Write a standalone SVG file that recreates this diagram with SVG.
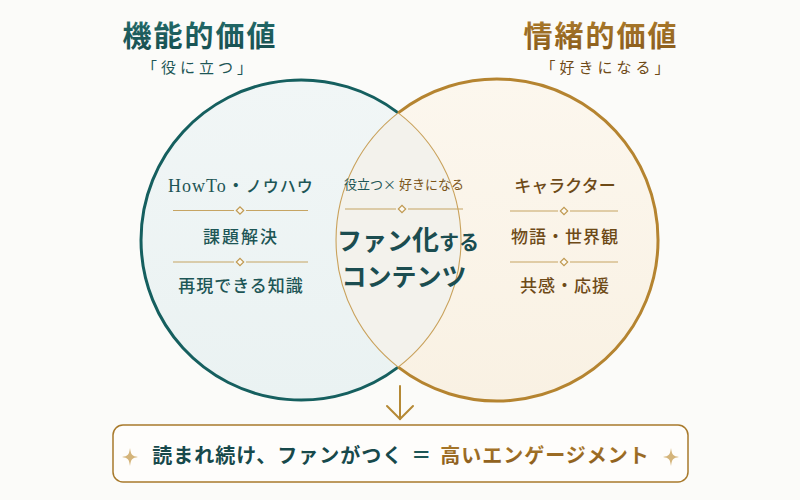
<svg xmlns="http://www.w3.org/2000/svg" width="800" height="500" viewBox="0 0 800 500">
  <defs>
    <linearGradient id="goldTxt" x1="0" y1="0" x2="0" y2="1">
      <stop offset="0" stop-color="#b07f2e"/>
      <stop offset="1" stop-color="#86581a"/>
    </linearGradient>
    <linearGradient id="tealTxt" x1="0" y1="0" x2="0" y2="1">
      <stop offset="0" stop-color="#24706e"/>
      <stop offset="1" stop-color="#164b4d"/>
    </linearGradient>
    <linearGradient id="leftFill" x1="0" y1="0" x2="0" y2="1">
      <stop offset="0" stop-color="#f1f6f6"/>
      <stop offset="1" stop-color="#eaf2f2"/>
    </linearGradient>
    <linearGradient id="rightFill" x1="0" y1="0" x2="0" y2="1">
      <stop offset="0" stop-color="#fcf7ee"/>
      <stop offset="1" stop-color="#f9f1e3"/>
    </linearGradient>
    <path id="sparkle" d="M0,-9 C1,-2 2,-1 8,0 C2,1 1,2 0,9 C-1,2 -2,1 -8,0 C-2,-1 -1,-2 0,-9 Z"/>
  </defs>
  <style>
    text { font-family: "Noto Sans CJK JP", "Liberation Serif", serif; text-anchor: middle; }
    .title { font-size: 29px; font-weight: bold; letter-spacing: 2px; }
    .sub { font-size: 15px; letter-spacing: 4px; }
    .item { font-size: 17px; font-weight: 500; letter-spacing: 1px; }
    .teal { fill: url(#tealTxt); }
    .gold { fill: url(#goldTxt); }
    .tealc { fill: #1d5656; }
    .brown { fill: #6e4a17; }
    .div line { stroke: #c6a463; stroke-width: 1.2; }
    .div rect { fill: #fbf8f0; stroke: #c09a52; stroke-width: 1.2; }
    .big { font-size: 25px; font-weight: bold; fill: #1b4d50; }
    .bottom { font-size: 20px; font-weight: bold; letter-spacing: 1px; }
  </style>
  <rect width="800" height="500" fill="#fbfbf9"/>

  <g id="left-circle">
    <circle cx="301" cy="240" r="160" fill="url(#leftFill)"/>
  </g>
  <g id="right-circle">
    <circle cx="497" cy="240" r="161" fill="url(#rightFill)"/>
  </g>
  <g id="overlap">
    <path d="M398.2,112.9 A160,160 0 0 1 398.2,367.1 A161,161 0 0 1 398.2,112.9 Z" fill="#f3f2ec"/>
  </g>

  <g id="connectors" fill="none">
    <path d="M398.2,112.9 A160,160 0 1 0 398.2,367.1" stroke="#155f5f" stroke-width="3"/>
    <path d="M398.2,112.9 A161,161 0 1 1 398.2,367.1" stroke="#b58430" stroke-width="3"/>
    <path d="M398.2,112.9 A160,160 0 0 1 398.2,367.1" stroke="#c9a25c" stroke-width="1.1"/>
    <path d="M398.2,112.9 A161,161 0 0 0 398.2,367.1" stroke="#c9a25c" stroke-width="1.1"/>
    <g id="arrow" stroke="#b58935" stroke-width="2" stroke-linecap="round">
      <line x1="400" y1="386" x2="400" y2="419"/>
      <polyline points="387,406 400,419 413,406" stroke-linejoin="miter"/>
    </g>
  </g>

  <g id="title-left">
    <text x="200" y="47" class="title teal">機能的価値</text>
    <text x="199" y="73" class="sub tealc">「役に立つ」</text>
  </g>
  <g id="title-right">
    <text x="601" y="47" class="title gold">情緒的価値</text>
    <text x="607" y="73" class="sub brown">「好きになる」</text>
  </g>

  <g id="left-items">
    <text x="241" y="192" class="item tealc" style="font-family:'Liberation Serif','Noto Sans CJK JP',serif;font-size:18px">HowTo・<tspan style="font-family:'Noto Sans CJK JP',serif;font-size:16px">ノウハウ</tspan></text>
    <g class="div">
      <line x1="173" y1="210.5" x2="234" y2="210.5"/>
      <line x1="246" y1="210.5" x2="308" y2="210.5"/>
      <rect x="-2.6" y="-2.6" width="5.2" height="5.2" transform="translate(240,210.5) rotate(45)"/>
    </g>
    <text x="241" y="243" class="item tealc" style="letter-spacing:2px">課題解決</text>
    <g class="div">
      <line x1="173" y1="262" x2="234" y2="262"/>
      <line x1="246" y1="262" x2="308" y2="262"/>
      <rect x="-2.6" y="-2.6" width="5.2" height="5.2" transform="translate(240,262) rotate(45)"/>
    </g>
    <text x="241" y="292" class="item tealc">再現できる知識</text>
  </g>

  <g id="center-items">
    <text x="404" y="189" style="font-size:13px"><tspan fill="#1d5656">役立つ×</tspan><tspan dx="3" fill="#7a5418">好きになる</tspan></text>
    <g class="div">
      <line x1="345" y1="209" x2="396" y2="209"/>
      <line x1="408" y1="209" x2="463" y2="209"/>
      <rect x="-2.6" y="-2.6" width="5.2" height="5.2" transform="translate(402,209) rotate(45)"/>
    </g>
    <text x="408" y="250" class="big">ファン<tspan style="font-size:27px">化</tspan><tspan style="font-size:20px">する</tspan></text>
    <text x="404" y="286" class="big">コンテンツ</text>
  </g>

  <g id="right-items">
    <text x="565" y="192" class="item brown" style="letter-spacing:0px">キャラクター</text>
    <g class="div">
      <line x1="510" y1="211" x2="558" y2="211"/>
      <line x1="570" y1="211" x2="618" y2="211"/>
      <rect x="-2.6" y="-2.6" width="5.2" height="5.2" transform="translate(564,211) rotate(45)"/>
    </g>
    <text x="565" y="243" class="item brown">物語・世界観</text>
    <g class="div">
      <line x1="510" y1="262" x2="558" y2="262"/>
      <line x1="570" y1="262" x2="618" y2="262"/>
      <rect x="-2.6" y="-2.6" width="5.2" height="5.2" transform="translate(564,262) rotate(45)"/>
    </g>
    <text x="565" y="292" class="item brown">共感・応援</text>
  </g>

  <g id="result">
    <rect x="113" y="425" width="575" height="57" rx="10" fill="#fefdfb" stroke="#a87a2c" stroke-width="1.5"/>
    <use href="#sparkle" x="130" y="457" fill="#d4b47a"/>
    <use href="#sparkle" x="671" y="457" fill="#d4b47a"/>
    <text x="401" y="463" class="bottom"><tspan fill="#17494b">読まれ続け、ファンがつく</tspan><tspan dx="8" fill="#1d5656">＝</tspan><tspan dx="8" fill="url(#goldTxt)">高いエンゲージメント</tspan></text>
  </g>
</svg>
